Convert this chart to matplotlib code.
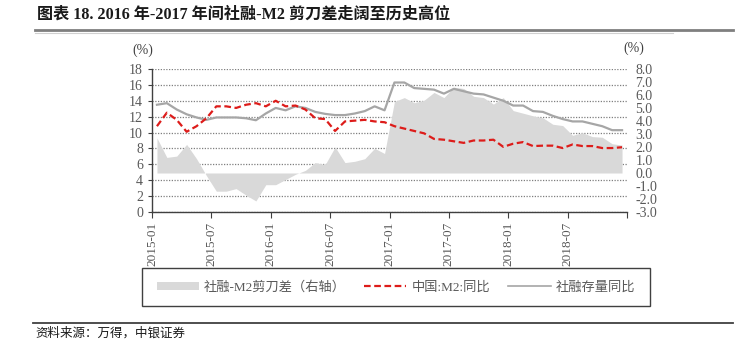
#!/usr/bin/env python3

import numpy as np
import matplotlib.pyplot as plt
from matplotlib.lines import Line2D
from matplotlib.patches import Patch, Rectangle

plt.rcParams["font.family"] = ["Liberation Serif", "Noto Sans CJK SC", "DejaVu Sans"]

W, H = 744, 345

months = [f"{y}-{m:02d}" for y in range(2015, 2019) for m in range(1, 13)]

# 中国:M2:同比 (%)
m2_yoy = [
    10.8, 12.5, 11.6, 10.1, 10.8, 11.8, 13.3, 13.3, 13.1, 13.5, 13.7, 13.3,
    14.0, 13.3, 13.4, 12.9, 11.8, 11.7, 10.2, 11.4, 11.5, 11.6, 11.4, 11.3,
    10.8, 10.5, 10.2, 9.9, 9.2, 9.1, 8.9, 8.7, 9.0, 9.0, 9.1, 8.2,
    8.6, 8.8, 8.3, 8.35, 8.35, 8.05, 8.5, 8.3, 8.3, 8.05, 8.05, 8.15,
]

# 社融存量同比 (%)
tsf_yoy = [
    13.5, 13.7, 12.9, 12.3, 11.9, 11.6, 11.9, 11.9, 11.9, 11.8, 11.55, 12.4,
    13.1, 12.8, 13.3, 13.1, 12.6, 12.35, 12.2, 12.2, 12.4, 12.7, 13.3, 12.8,
    16.3, 16.3, 15.6, 15.5, 15.4, 14.9, 15.5, 15.2, 14.9, 14.8, 14.4, 14.0,
    13.4, 13.4, 12.7, 12.6, 12.1, 11.7, 11.4, 11.4, 11.1, 10.8, 10.3, 10.3,
]

tick_months = ["2015-01", "2015-07", "2016-01", "2016-07",
               "2017-01", "2017-07", "2018-01", "2018-07"]

GREY_TEXT = "#595959"
FILL = "#D9D9D9"
LINE_GREY = "#A6A6A6"
RED = "#DD1C1A"


def px(x, y):
    return x / W, 1 - y / H


x = np.arange(len(months))
spread = np.array(tsf_yoy) - np.array(m2_yoy)

fig = plt.figure(figsize=(W / 100, H / 100), dpi=100)
left, bottom = px(152, 212)
ax = fig.add_axes([left, bottom, (627 - 152) / W, (212 - 69) / H])
ax2 = ax.twinx()
ax3 = ax.twinx()

# left axis: grid and ticks
ax.set_xlim(-0.5, len(months) - 0.5)
ax.set_ylim(0, 18)
ax.set_yticks(np.arange(0, 19, 2))
ax.yaxis.grid(True, linestyle=(0, (1, 1.2)), color="#7F7F7F", linewidth=0.9)
ax.set_axisbelow(True)
ax.tick_params(axis="y", labelsize=10, colors=GREY_TEXT, length=3, width=0.8)
ax.tick_params(axis="y", color="#404040")

idx = [months.index(m) for m in tick_months]
ax.set_xticks([i - 0.5 for i in idx] + [len(months) - 0.5])
ax.set_xticklabels(tick_months + [""], rotation=90, fontsize=9.5, color=GREY_TEXT)
ax.tick_params(axis="x", length=4, width=0.8, color="#404040", pad=3)

for side in ("top", "right"):
    ax.spines[side].set_visible(False)
for side in ("left", "bottom"):
    ax.spines[side].set_color("#404040")
    ax.spines[side].set_linewidth(1.0)

# right axis: spread area
ax2.fill_between(x, 0, spread, color=FILL, linewidth=0, zorder=1)
ax2.set_ylim(-3, 8)
ax2.set_yticks(np.arange(-3, 9, 1))
ax2.set_yticklabels([f"{v:.1f}" for v in np.arange(-3, 9, 1)])
ax2.tick_params(axis="y", labelsize=10, colors=GREY_TEXT, length=0, pad=6)
for spine in ax2.spines.values():
    spine.set_visible(False)

# lines on top
ax3.plot(x, tsf_yoy, color=LINE_GREY, linewidth=1.6)
ax3.plot(x, m2_yoy, color=RED, linewidth=1.6, linestyle=(0, (3, 1.6)))
ax3.set_ylim(0, 18)
ax3.axis("off")

fig.text(*px(143, 50), "(%)", ha="center", va="center", fontsize=10, color="#404040")
fig.text(*px(634, 48), "(%)", ha="center", va="center", fontsize=10, color="#404040")

# legend
handles = [
    Patch(facecolor=FILL, edgecolor="none"),
    Line2D([], [], color=RED, linewidth=1.6, linestyle=(0, (3, 1.6))),
    Line2D([], [], color=LINE_GREY, linewidth=1.2),
]
labels = ["社融-M2剪刀差（右轴）", "中国:M2:同比", "社融存量同比"]
lx, ly = px(142, 306)
leg = fig.legend(handles, labels, loc="center", ncol=3, mode="expand",
                 bbox_to_anchor=(lx, ly, (650 - 142) / W, (306 - 268) / H),
                 fontsize=9.5, handlelength=3.2, handleheight=0.6,
                 handletextpad=0.4, borderpad=0.6, frameon=False,
                 labelcolor=GREY_TEXT)
fig.patches.append(Rectangle(px(142, 306), (650 - 142) / W, (306 - 268) / H,
                             transform=fig.transFigure, fill=False,
                             edgecolor="#404040", linewidth=1.0))

# title and source
fig.text(*px(37, 15), "图表 18. 2016 年-2017 年间社融-M2 剪刀差走阔至历史高位",
         ha="left", va="center", fontsize=11.6, fontweight="bold", color="#1A1A1A")
fig.add_artist(Line2D([35 / W, 733 / W], [1 - 30 / H] * 2, transform=fig.transFigure,
                      color="#7F7F7F", linewidth=2.0))
fig.add_artist(Line2D([35 / W, 673 / W], [1 - 33 / H] * 2, transform=fig.transFigure,
                      color="#D0D0D0", linewidth=0.8))
fig.add_artist(Line2D([33 / W, 733 / W], [1 - 323 / H] * 2, transform=fig.transFigure,
                      color="#404040", linewidth=1.3))
fig.text(*px(35, 333), "资料来源：万得，中银证券", ha="left", va="center",
         fontsize=9, color="#1A1A1A")

fig.savefig("out.png", dpi=100)
